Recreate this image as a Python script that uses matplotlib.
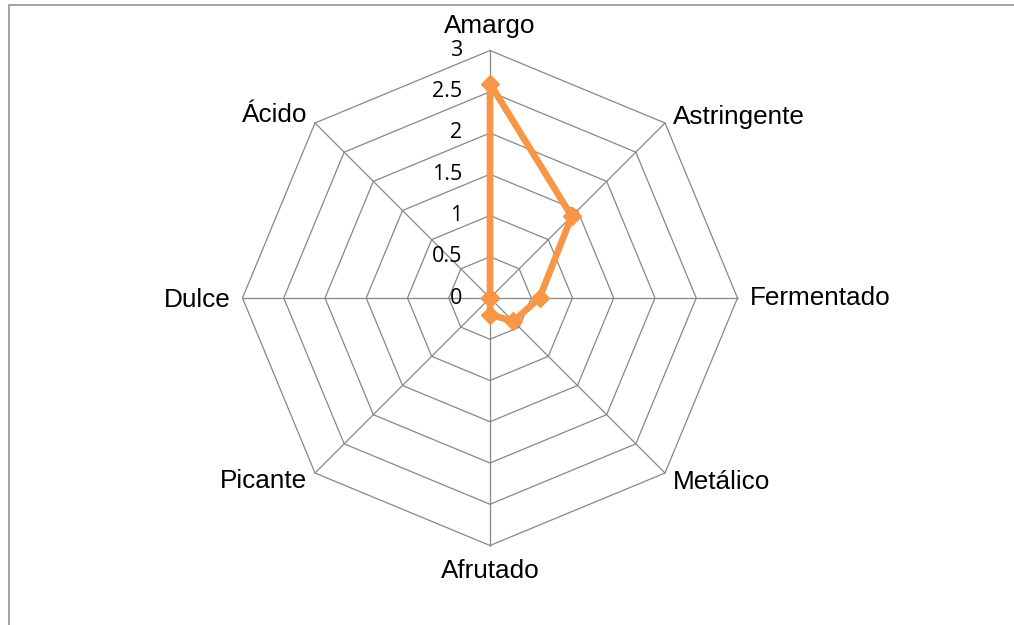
import numpy as np
import matplotlib
matplotlib.use("Agg")
import matplotlib.pyplot as plt
from matplotlib.patches import Rectangle

# Sensory profile data
categories = ["Amargo", "Astringente", "Fermentado", "Metálico",
              "Afrutado", "Picante", "Dulce", "Ácido"]
values = [2.6, 1.4, 0.6, 0.4, 0.2, 0.0, 0.0, 0.0]
ring_levels = [0.5, 1.0, 1.5, 2.0, 2.5, 3.0]
tick_values = [0, 0.5, 1, 1.5, 2, 2.5, 3]
tick_labels = ["0", "0.5", "1", "1.5", "2", "2.5", "3"]
r_max = 3.0

W, H = 1014, 625
cx, cy = 490, 298            # chart centre in pixels (from left / top)
scale = 247.5 / r_max        # pixels per unit of value

grid_color = "#878787"
series_color = "#F79646"

fig = plt.figure(figsize=(W / 100, H / 100), dpi=100)
fig.patch.set_facecolor("white")
ax = fig.add_axes([0, 0, 1, 1])
ax.set_xlim(-cx / scale, (W - cx) / scale)
ax.set_ylim(-(H - cy) / scale, cy / scale)
ax.axis("off")

n = len(categories)
angles = np.arange(n) * 2 * np.pi / n


def polar_xy(r, a):
    r = np.asarray(r, dtype=float)
    return r * np.sin(a), r * np.cos(a)


# Octagonal rings
closed_angles = np.append(angles, angles[0])
for lvl in ring_levels:
    x, y = polar_xy(np.full(n + 1, lvl), closed_angles)
    ax.plot(x, y, color=grid_color, lw=0.9, zorder=1)

# Spokes
for a in angles:
    x, y = polar_xy([0, r_max], np.array([a, a]))
    ax.plot(x, y, color=grid_color, lw=0.9, zorder=1)

# Series
vals = np.append(values, values[0])
x, y = polar_xy(vals, closed_angles)
ax.plot(x, y, color=series_color, lw=4.8, zorder=3, solid_joinstyle="round")
ax.plot(x[:-1], y[:-1], ls="none", marker="D", ms=9.5, mfc=series_color,
        mec=series_color, mew=1, zorder=4)

# Value axis labels along the first spoke
for tv, tl in zip(tick_values, tick_labels):
    ax.annotate(tl, xy=(0, tv), xytext=(-28, 0), textcoords="offset pixels",
                ha="right", va="center", fontsize=15.5, family="Open Sans",
                color="black")

# Category labels
label_fmt = [
    ("center", "baseline", (0, 17)),
    ("left", "center", (8, 6)),
    ("left", "center", (12, 0)),
    ("left", "center", (8, -9)),
    ("center", "center", (0, -26)),
    ("right", "center", (-8, -8)),
    ("right", "center", (-12, -2)),
    ("right", "center", (-8, 8)),
]
for cat, a, (ha, va, off) in zip(categories, angles, label_fmt):
    px, py = polar_xy(r_max, a)
    ax.annotate(cat, xy=(px, py), xytext=off, textcoords="offset pixels",
                ha=ha, va=va, fontsize=18.8, family="Liberation Sans",
                color="black")

# Chart area border
fig.add_artist(Rectangle((9 / W, -0.05), 1.2, 1.05 - 5.5 / H,
                         transform=fig.transFigure, fill=False,
                         ec="#8a8a8a", lw=1.1))

fig.savefig("out.png", dpi=100)
